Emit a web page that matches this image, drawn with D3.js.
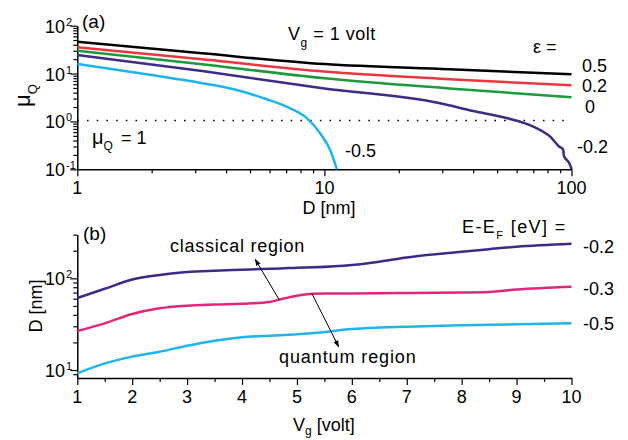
<!DOCTYPE html>
<html>
<head>
<meta charset="utf-8">
<script src="https://cdn.jsdelivr.net/npm/d3@7"></script>
<style>
  body { margin: 0; background: #fff; }
  svg text { font-family: "Liberation Sans", Arial, Helvetica, sans-serif; fill: #000; }
</style>
</head>
<body>
<div class="d3-container"></div>
<script>
// ---- panel (a): mu_Q vs D at Vg = 1 volt, one curve per epsilon ----
const epsLabels = ["0.5", "0.2", "0", "-0.2", "-0.5"];

const dMain = [1, 3.2, 10, 32, 100];
const muEps05 = [46.4, 26.5, 15.8, 12.3, 9.7];
const muEps02 = [35.4, 19.9, 11.0, 7.6, 5.7];
const muEps0  = [30, 15.6, 8.0, 4.9, 3.2];

const dEpsM02 = [1, 3.2, 10, 29.4, 40, 55, 70, 82, 89, 92.5, 93.2, 95.5, 97.5, 99.5, 100];
const muEpsM02 = [24.4, 11.3, 4.9, 2.4, 1.65, 1.17, 0.78, 0.48, 0.30, 0.26, 0.19, 0.158, 0.14, 0.11, 0.1];

const dEpsM05 = [1, 2, 3.2, 4.3, 5.85, 7.27, 8.49, 9.61, 10.55, 11.24];
const muEpsM05 = [15.8, 9.3, 6.3, 4.7, 2.9, 1.88, 1.17, 0.567, 0.254, 0.1];

// ---- panel (b): D vs Vg, one curve per E-EF ----
const eLabels = ["-0.2", "-0.3", "-0.5"];
const vg = [1, 1.5, 2, 2.5, 3, 3.5, 4, 4.5, 4.7, 5, 5.3, 6, 6.5, 7, 8, 8.5, 9, 10];
const dEm02 = [61, 77, 97, 108.7, 117, 121, 124, 127, 128, 130.5, 132, 140, 152, 169, 195, 208, 221, 238];
const dEm03 = [26.6, 32.3, 40.8, 47.1, 50.3, 51.8, 52.9, 55.2, 59, 64.6, 68, 68.5, 68.8, 69.2, 70, 71, 75.5, 81];
const dEm05 = [9.2, 11.8, 14, 15.8, 18.4, 20.9, 22.8, 23.7, 24, 24.5, 25.3, 28, 29, 29.7, 30.7, 31.1, 31.5, 32.3];

const colors = {black: "#000000", red: "#e8373f", green: "#1a9a3c", purple: "#3f2a87", cyan: "#1fb4ec", pink: "#e0287a"};

const width = 628, height = 440;
const font = 18;

const svg = d3.select(".d3-container")
  .append("svg")
  .attr("width", width)
  .attr("height", height)
  .attr("viewBox", [0, 0, width, height]);

// scales
const xA = d3.scaleLog().domain([1, 100]).range([77.3, 571.5]);
const yA = d3.scaleLog().domain([0.1, 100]).range([169.3, 25.7]);
const xB = d3.scaleLinear().domain([1, 10]).range([77.3, 571.5]);
const yB = d3.scaleLog().domain([8.2, 300]).range([377.9, 234.6]);

function logTicks(lo, hi) {
  const t = [];
  for (let p = Math.floor(Math.log10(lo)); p <= Math.ceil(Math.log10(hi)); p++) {
    for (let m = 1; m < 10; m++) {
      const v = +(m * Math.pow(10, p)).toPrecision(3);
      if (v >= lo - 1e-9 && v <= hi + 1e-9) t.push(v);
    }
  }
  return t;
}
const isPow10 = v => Math.abs(Math.log10(v) - Math.round(Math.log10(v))) < 1e-6;

function styleAxis(g) {
  g.select(".domain").attr("stroke-width", 1.5);
  g.selectAll(".tick line").attr("stroke-width", 1.2);
  g.selectAll(".tick text").remove();
}

// ---- panel (a) axes ----
svg.append("g")
  .attr("transform", `translate(${xA(1)},0)`)
  .call(d3.axisLeft(yA).tickValues(logTicks(0.1, 100)).tickSize(7).tickSizeOuter(0).tickFormat(""))
  .call(styleAxis)
  .call(g => g.selectAll(".tick line").attr("x2", d => isPow10(d) ? -7 : -4));

svg.append("g")
  .attr("transform", `translate(0,${yA(0.1)})`)
  .call(d3.axisBottom(xA).tickValues(logTicks(1, 100)).tickSize(7).tickSizeOuter(0).tickFormat(""))
  .call(styleAxis)
  .call(g => g.selectAll(".tick line").attr("y2", d => isPow10(d) ? 7 : 4));

// power-of-ten labels
function powLabel(g, x, y, exp) {
  g.append("text").attr("x", x).attr("y", y).attr("text-anchor", "end").attr("font-size", font).text("10");
  g.append("text").attr("x", x + 1).attr("y", y - 7).attr("font-size", 11).text(exp);
}
[-1, 0, 1, 2].forEach(p => powLabel(svg, 65, yA(Math.pow(10, p)) + 7, p));
[1, 2].forEach(p => powLabel(svg, 65, yB(Math.pow(10, p)) + 7, p));

svg.append("g").selectAll("text")
  .data([1, 10, 100])
  .join("text")
  .attr("x", d => xA(d))
  .attr("y", yA(0.1) + 25)
  .attr("text-anchor", "middle")
  .attr("font-size", font)
  .text(d => d);

// mu_Q = 1 dotted line
svg.append("line")
  .attr("x1", xA(1)).attr("x2", xA(100))
  .attr("y1", yA(1) - 1).attr("y2", yA(1) - 1)
  .attr("stroke", "#000").attr("stroke-width", 1.6)
  .attr("stroke-dasharray", "1.6,8.1");

// curves (a)
const lineA = d3.line().x(d => xA(d[0])).y(d => yA(d[1])).curve(d3.curveMonotoneX);
const seriesA = [
  {d: dMain, mu: muEps05, c: colors.black},
  {d: dMain, mu: muEps02, c: colors.red},
  {d: dMain, mu: muEps0, c: colors.green},
  {d: dEpsM02, mu: muEpsM02, c: colors.purple},
  {d: dEpsM05, mu: muEpsM05, c: colors.cyan}
];
svg.append("g")
  .attr("fill", "none")
  .attr("stroke-width", 2.5)
  .selectAll("path")
  .data(seriesA)
  .join("path")
  .attr("stroke", s => s.c)
  .attr("d", s => lineA(s.d.map((v, i) => [v, s.mu[i]])));

// labels (a)
svg.append("text").attr("x", 82).attr("y", 28).attr("font-size", 19).text("(a)");
const vgA = svg.append("text").attr("x", 288).attr("y", 40).attr("font-size", font).attr("letter-spacing", 0.5);
vgA.append("tspan").text("V");
vgA.append("tspan").attr("font-size", 12).attr("dy", 7).text("g");
vgA.append("tspan").attr("dy", -7).text(" = 1 volt");
svg.append("text").attr("x", 533).attr("y", 53).attr("font-size", font).text("\u03b5 =");

const epsPos = [[582, 72], [582, 92], [585, 113], [577, 153]];
svg.append("g").selectAll("text")
  .data(epsLabels.slice(0, 4))
  .join("text")
  .attr("x", (d, i) => epsPos[i][0])
  .attr("y", (d, i) => epsPos[i][1])
  .attr("font-size", font)
  .text(d => d);
svg.append("text").attr("x", 345).attr("y", 157).attr("font-size", font).text(epsLabels[4]);

const muOne = svg.append("text").attr("x", 92).attr("y", 144).attr("font-size", font);
muOne.append("tspan").attr("font-size", 20).text("\u03bc");
muOne.append("tspan").attr("font-size", 12).attr("dy", 6).text("Q");
muOne.append("tspan").attr("dy", -6).attr("dx", 3).text(" = 1");

const muLab = svg.append("text")
  .attr("transform", "translate(30,107) rotate(-90)")
  .attr("font-size", 22);
muLab.append("tspan").text("\u03bc");
muLab.append("tspan").attr("font-size", 13).attr("dy", 7).text("Q");

svg.append("text").attr("x", 329).attr("y", 214).attr("text-anchor", "middle").attr("font-size", font).text("D [nm]");

// ---- panel (b) axes ----
svg.append("g")
  .attr("transform", `translate(${xB(1)},0)`)
  .call(d3.axisLeft(yB).tickValues(logTicks(9, 300)).tickSize(7).tickSizeOuter(0).tickFormat(""))
  .call(styleAxis)
  .call(g => g.selectAll(".tick line").attr("x2", d => isPow10(d) ? -7 : -4));

svg.append("g")
  .attr("transform", `translate(0,${yB(8.2)})`)
  .call(d3.axisBottom(xB).tickValues(d3.range(1, 10.01, 0.5)).tickSize(7).tickSizeOuter(0).tickFormat(""))
  .call(styleAxis)
  .call(g => g.selectAll(".tick line").attr("y2", d => Number.isInteger(d) ? 7 : 4));

svg.append("g").selectAll("text")
  .data(d3.range(1, 11))
  .join("text")
  .attr("x", d => xB(d))
  .attr("y", 403)
  .attr("text-anchor", "middle")
  .attr("font-size", font)
  .text(d => d);

// curves (b)
const lineB = d3.line().x(d => xB(d[0])).y(d => yB(d[1])).curve(d3.curveMonotoneX);
const seriesB = [
  {vals: dEm02, c: colors.purple},
  {vals: dEm03, c: colors.pink},
  {vals: dEm05, c: colors.cyan}
];
svg.append("g")
  .attr("fill", "none")
  .attr("stroke-width", 2.5)
  .selectAll("path")
  .data(seriesB)
  .join("path")
  .attr("stroke", s => s.c)
  .attr("d", s => lineB(vg.map((v, i) => [v, s.vals[i]])));

// arrows
svg.append("defs").append("marker")
  .attr("id", "arr")
  .attr("viewBox", "0 0 10 10")
  .attr("refX", 9).attr("refY", 5)
  .attr("markerWidth", 7).attr("markerHeight", 7)
  .attr("orient", "auto")
  .append("path").attr("d", "M0,1.5L10,5L0,8.5Z").attr("fill", "#000");

const arrows = [
  [[4.68, 58], [4.24, 161]],
  [[5.27, 68.6], [5.76, 17.9]]
];
svg.append("g").selectAll("line")
  .data(arrows)
  .join("line")
  .attr("x1", d => xB(d[0][0])).attr("y1", d => yB(d[0][1]))
  .attr("x2", d => xB(d[1][0])).attr("y2", d => yB(d[1][1]))
  .attr("stroke", "#000").attr("stroke-width", 1)
  .attr("marker-end", "url(#arr)");

// labels (b)
svg.append("text").attr("x", 83).attr("y", 240).attr("font-size", 19).text("(b)");
svg.append("text").attr("x", 170).attr("y", 252).attr("font-size", font).attr("letter-spacing", 0.75).text("classical region");
svg.append("text").attr("x", 279).attr("y", 363).attr("font-size", font).attr("letter-spacing", 0.9).text("quantum region");

const eef = svg.append("text").attr("x", 462).attr("y", 233).attr("font-size", font).attr("letter-spacing", 1.4);
eef.append("tspan").text("E-E");
eef.append("tspan").attr("font-size", 11).attr("dy", 6).text("F");
eef.append("tspan").attr("dy", -6).text(" [eV] =");

const ePos = [253, 295, 330];
svg.append("g").selectAll("text")
  .data(eLabels)
  .join("text")
  .attr("x", 583)
  .attr("y", (d, i) => ePos[i])
  .attr("font-size", font)
  .text(d => d);

svg.append("text")
  .attr("transform", "translate(42,306) rotate(-90)")
  .attr("text-anchor", "middle")
  .attr("font-size", font)
  .text("D [nm]");

const vgB = svg.append("text").attr("x", 293).attr("y", 431).attr("font-size", font);
vgB.append("tspan").text("V");
vgB.append("tspan").attr("font-size", 12).attr("dy", 4).text("g");
vgB.append("tspan").attr("dy", -4).text(" [volt]");

svg.node();
</script>
</body>
</html>
